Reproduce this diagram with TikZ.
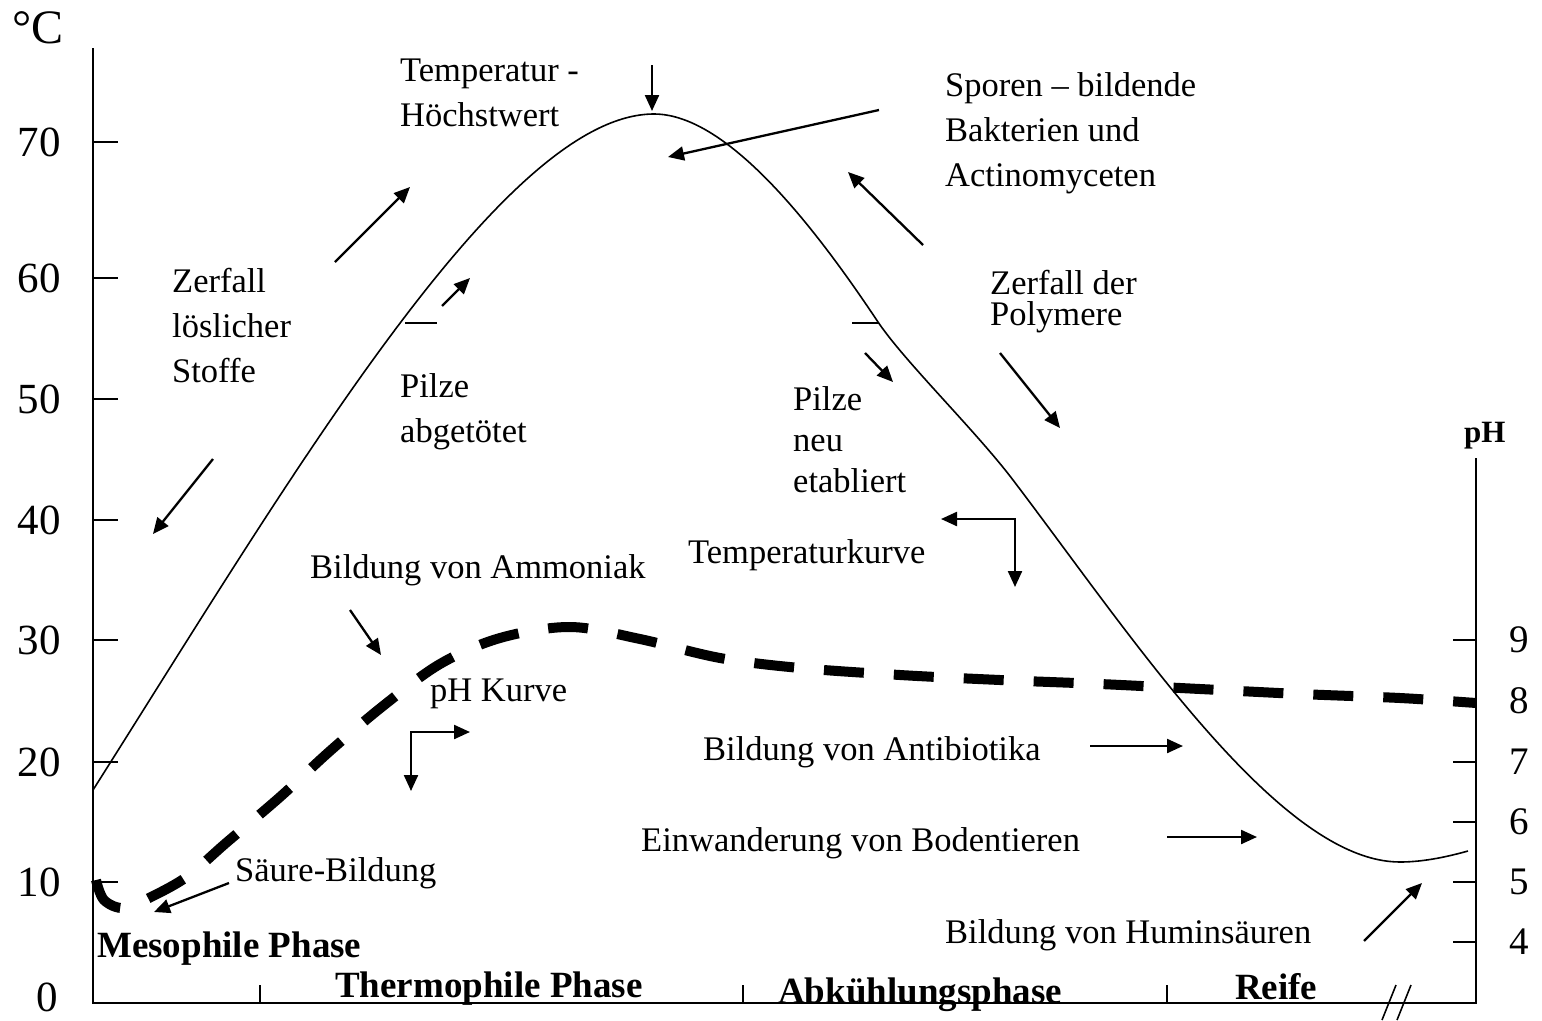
\documentclass[tikz,border=0pt]{standalone}
\usepackage{fontspec}
\setmainfont{Liberation Serif}
\usetikzlibrary{arrows.meta}
\begin{document}
\begin{tikzpicture}[x=1pt,y=-1pt,
  lbl/.style={font=\fontsize{34.5}{40}\selectfont, inner sep=0, anchor=base west},
  bld/.style={font=\fontsize{37}{44}\selectfont\bfseries, inner sep=0, anchor=base west},
  tlab/.style={font=\fontsize{43}{48}\selectfont, inner sep=0},
  phn/.style={font=\fontsize{39}{44}\selectfont, inner sep=0, anchor=west},
  arr/.style={line width=2.3pt, -{Triangle[length=16pt,width=14pt]}},
  arrb/.style={line width=2.3pt, {Triangle[length=16pt,width=14pt]}-{Triangle[length=16pt,width=14pt]}},
  axisline/.style={line width=2pt},
  tcurve/.style={line width=1.6pt},
  phcurve/.style={line width=10pt, dash pattern=on 40pt off 30pt}]
\useasboundingbox (0,0) rectangle (1542,1020);

% axes
\coordinate (ytop) at (93,48);
\coordinate (origin) at (93,1003);
\coordinate (xend) at (1476,1003);
\coordinate (phtop) at (1476,458);
\draw[axisline] (ytop) -- (origin) -- (xend) -- (phtop);

% left ticks and labels
\foreach \v/\y in {70/142,60/278,50/399,40/520,30/640,20/762,10/882}{
  \draw[axisline] (93,\y) -- (118,\y);
  \node[tlab] (l\v) at (39,\y) {\v};
}
\node[tlab] (l0) at (47,997) {0};
\node[font=\fontsize{48}{52}\selectfont, inner sep=0] (degc) at (38,28) {°C};

% right ticks and labels
\foreach \v/\y in {9/640,8/701,7/762,6/822,5/882,4/942}{
  \draw[axisline] (1453,\y) -- (1476,\y);
  \node[phn] (r\v) at (1509,\y) {\v};
}
\node[font=\fontsize{31}{36}\selectfont\bfseries, inner sep=0, anchor=base west] (phlab) at (1464,442) {pH};

% bottom ticks
\foreach \x in {260,743,1167}{
  \draw[axisline] (\x,985) -- (\x,1003);
}
% axis break
\draw[line width=1.6pt] (1382,1020) -- (1396,985);
\draw[line width=1.6pt] (1397,1020) -- (1411,985);

% temperature curve
\coordinate (tstart) at (93,790);
\coordinate (tpeak) at (654,114);
\coordinate (tk1) at (878,322);
\coordinate (tk2) at (1013,480);
\coordinate (tmin) at (1400,862);
\coordinate (tend) at (1468,851);
\draw[tcurve] (tstart) .. controls (293,474) and (504,114) .. (tpeak)
  .. controls (730,114) and (820,235) .. (tk1)
  .. controls (905,362) and (975,430) .. (tk2)
  .. controls (1133,638) and (1280,862) .. (tmin)
  .. controls (1425,862) and (1450,856) .. (tend);
\draw[axisline] (405,323) -- (437,323);
\draw[axisline] (852,323) -- (878,323);

% pH curve
\draw[phcurve] plot[smooth, tension=0.55] coordinates {
 (96,880) (104,900) (124,908) (153,896) (188,876) (226,843) (280,797)
 (330,751) (383,706) (440,664) (500,638) (570,627) (640,639) (720,658)
 (800,668) (900,675) (1000,680) (1100,684) (1200,689) (1300,694)
 (1400,698) (1476,703)};

% text
\node[lbl] (tmax1) at (400,81) {Temperatur -};
\node[lbl] (tmax2) at (400,126) {Höchstwert};
\node[lbl] (spo1) at (945,96) {Sporen – bildende};
\node[lbl] (spo2) at (945,141) {Bakterien und};
\node[lbl] (spo3) at (945,186) {Actinomyceten};
\node[lbl] (zl1) at (172,292) {Zerfall};
\node[lbl] (zl2) at (172,337) {löslicher};
\node[lbl] (zl3) at (172,382) {Stoffe};
\node[font=\fontsize{34.5}{31}\selectfont, inner sep=0, anchor=north west, align=left] (zp) at (990,270) {Zerfall der\\Polymere};
\node[lbl] (pa1) at (400,397) {Pilze};
\node[lbl] (pa2) at (400,442) {abgetötet};
\node[lbl] (pn1) at (793,410) {Pilze};
\node[lbl] (pn2) at (793,451) {neu};
\node[lbl] (pn3) at (793,492) {etabliert};
\node[lbl] (tk) at (688,563) {Temperaturkurve};
\node[lbl] (amm) at (310,578) {Bildung von Ammoniak};
\node[lbl] (phk) at (430,701) {pH Kurve};
\node[lbl] (anti) at (703,760) {Bildung von Antibiotika};
\node[lbl] (boden) at (641,851) {Einwanderung von Bodentieren};
\node[lbl] (saeure) at (235,881) {Säure-Bildung};
\node[lbl] (humin) at (945,943) {Bildung von Huminsäuren};
\node[bld] (meso) at (97,957) {Mesophile Phase};
\node[bld] (thermo) at (335,997) {Thermophile Phase};
\node[bld] (abk) at (778,1003) {Abkühlungsphase};
\node[bld] (reife) at (1235,999) {Reife};

% arrows
\coordinate (a1s) at (652,65);   \coordinate (a1e) at (652,111);
\coordinate (a2s) at (879,110);  \coordinate (a2e) at (668,157);
\coordinate (a3s) at (335,262);  \coordinate (a3e) at (410,187);
\coordinate (a4s) at (442,306);  \coordinate (a4e) at (470,278);
\coordinate (a5s) at (923,245);  \coordinate (a5e) at (848,172);
\coordinate (a6s) at (865,353);  \coordinate (a6e) at (893,382);
\coordinate (a7s) at (1000,353); \coordinate (a7e) at (1060,428);
\coordinate (a8s) at (213,459);  \coordinate (a8e) at (153,534);
\coordinate (a9a) at (941,519);  \coordinate (a9c) at (1015,519); \coordinate (a9b) at (1015,587);
\coordinate (a10a) at (470,732); \coordinate (a10c) at (411,732); \coordinate (a10b) at (411,791);
\coordinate (a11s) at (350,610); \coordinate (a11e) at (381,655);
\coordinate (a12s) at (229,883); \coordinate (a12e) at (154,912);
\coordinate (a13s) at (1090,746); \coordinate (a13e) at (1183,746);
\coordinate (a14s) at (1167,837); \coordinate (a14e) at (1257,837);
\coordinate (a15s) at (1364,941); \coordinate (a15e) at (1422,883);

\draw[arr] (a1s) -- (a1e);
\draw[arr] (a2s) -- (a2e);
\draw[arr] (a3s) -- (a3e);
\draw[arr] (a4s) -- (a4e);
\draw[arr] (a5s) -- (a5e);
\draw[arr] (a6s) -- (a6e);
\draw[arr] (a7s) -- (a7e);
\draw[arr] (a8s) -- (a8e);
\draw[arrb] (a9a) -- (a9c) -- (a9b);
\draw[arrb] (a10a) -- (a10c) -- (a10b);
\draw[arr] (a11s) -- (a11e);
\draw[arr] (a12s) -- (a12e);
\draw[arr] (a13s) -- (a13e);
\draw[arr] (a14s) -- (a14e);
\draw[arr] (a15s) -- (a15e);
\end{tikzpicture}
\end{document}
